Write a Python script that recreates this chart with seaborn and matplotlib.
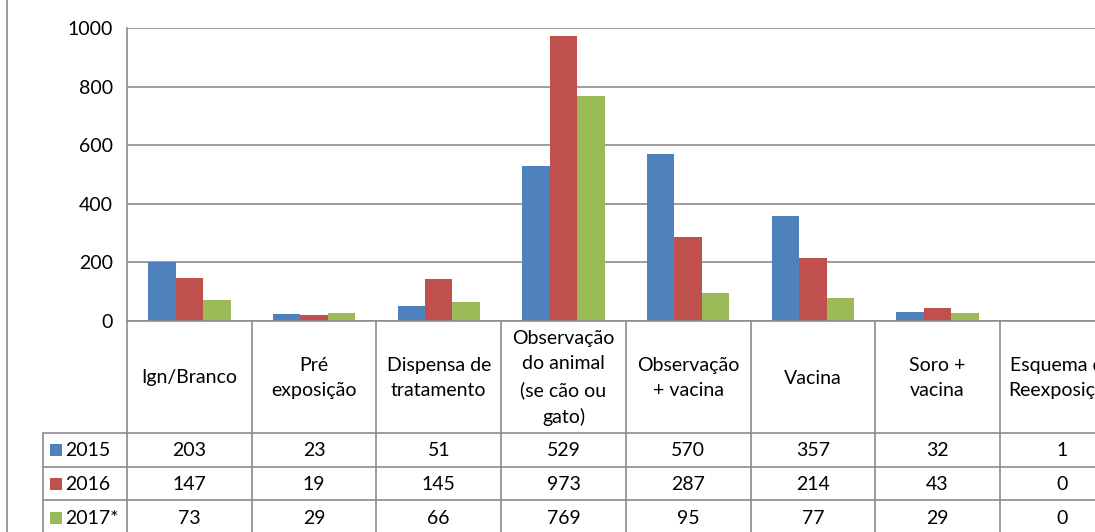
import matplotlib
matplotlib.use("Agg")
import matplotlib.pyplot as plt
from matplotlib.lines import Line2D
from matplotlib.patches import Rectangle
from matplotlib.transforms import blended_transform_factory
import numpy as np
import pandas as pd
import seaborn as sns

# Categories (table header text) and yearly counts
categories = [
    "Ign/Branco",
    "Pré\nexposição",
    "Dispensa de\ntratamento",
    "Observação\ndo animal\n(se cão ou\ngato)",
    "Observação\n+ vacina",
    "Vacina",
    "Soro +\nvacina",
    "Esquema de\nReexposição",
]
years = ["2015", "2016", "2017*"]
values_2015 = [203, 23, 51, 529, 570, 357, 32, 1]
values_2016 = [147, 19, 145, 973, 287, 214, 43, 0]
values_2017 = [73, 29, 66, 769, 95, 77, 29, 0]
yticks = [0, 200, 400, 600, 800, 1000]

colors = ["#4F81BD", "#C0504D", "#9BBB59"]
series = [values_2015, values_2016, values_2017]

df = pd.DataFrame({
    "cat": list(range(len(categories))) * len(years),
    "year": sum([[y] * len(categories) for y in years], []),
    "value": sum(series, []),
})

sns.set_theme(style="white")
plt.rcParams["font.family"] = ["Lato", "DejaVu Sans"]
FS = 14

W, H = 1095, 532
fig = plt.figure(figsize=(W / 100, H / 100), dpi=100)

# plot area in pixel geometry
left_px, top_px, bottom_px = 127, 28, 321
cat_w = 124.7
ax = fig.add_axes([left_px / W, 1 - bottom_px / H,
                   cat_w * len(categories) / W, (bottom_px - top_px) / H])

sns.barplot(data=df, x="cat", y="value", hue="year", palette=colors,
            width=0.66, linewidth=0, saturation=1, ax=ax, legend=False,
            order=list(range(len(categories))), hue_order=years)

ax.set_xlim(-0.5, len(categories) - 0.5)
ax.set_ylim(0, 1000)
ax.set_yticks(yticks)
ax.set_yticklabels([str(t) for t in yticks], fontsize=FS)
ax.tick_params(axis="y", length=0, pad=10, colors="black")
ax.set_xticks([])
ax.set_xlabel("")
ax.set_ylabel("")
grid_c = "#8C8C8C"
ax.grid(axis="y", color=grid_c, linewidth=1.2)
ax.set_axisbelow(True)
for s in ["top", "right"]:
    ax.spines[s].set_visible(False)
for s in ["left", "bottom"]:
    ax.spines[s].set_color(grid_c)
    ax.spines[s].set_linewidth(1.2)

# data table under the plot
def fy(px):
    return 1 - px / H

def fx(px):
    return px / W

trans = blended_transform_factory(ax.transData, fig.transFigure)
row_lines = [433, 467, 500]
row_centers = [450, 484, 518]
legend_left = 43

# vertical cell borders at category boundaries
for k in range(len(categories) + 1):
    fig.add_artist(Line2D([k - 0.5, k - 0.5], [fy(bottom_px), fy(H + 5)],
                          transform=trans, color=grid_c, lw=1.2))
# horizontal row borders
for r in row_lines:
    fig.add_artist(Line2D([fx(legend_left), 1.05], [fy(r), fy(r)],
                          transform=fig.transFigure, color=grid_c, lw=1.2))
fig.add_artist(Line2D([fx(legend_left), fx(legend_left)], [fy(row_lines[0]), fy(H + 5)],
                      transform=fig.transFigure, color=grid_c, lw=1.2))
# outer frame line on the left
fig.add_artist(Line2D([fx(7), fx(7)], [0, 1], transform=fig.transFigure,
                      color=grid_c, lw=1.2))

# header cells
for i, c in enumerate(categories):
    fig.text(i, fy(378), c, transform=trans, ha="center", va="center",
             fontsize=FS, linespacing=1.6, color="black")

# value rows with legend keys
for j, (yr, vals, col) in enumerate(zip(years, series, colors)):
    yc = row_centers[j]
    fig.add_artist(Rectangle((fx(50), fy(yc + 6)), 12 / W, 12 / H,
                             transform=fig.transFigure, color=col, lw=0))
    fig.text(fx(65), fy(yc), yr, ha="left", va="center", fontsize=FS, color="black")
    for i, v in enumerate(vals):
        fig.text(i, fy(yc), str(v), transform=trans, ha="center", va="center",
                 fontsize=FS, color="black")

fig.savefig("out.png", dpi=100)
